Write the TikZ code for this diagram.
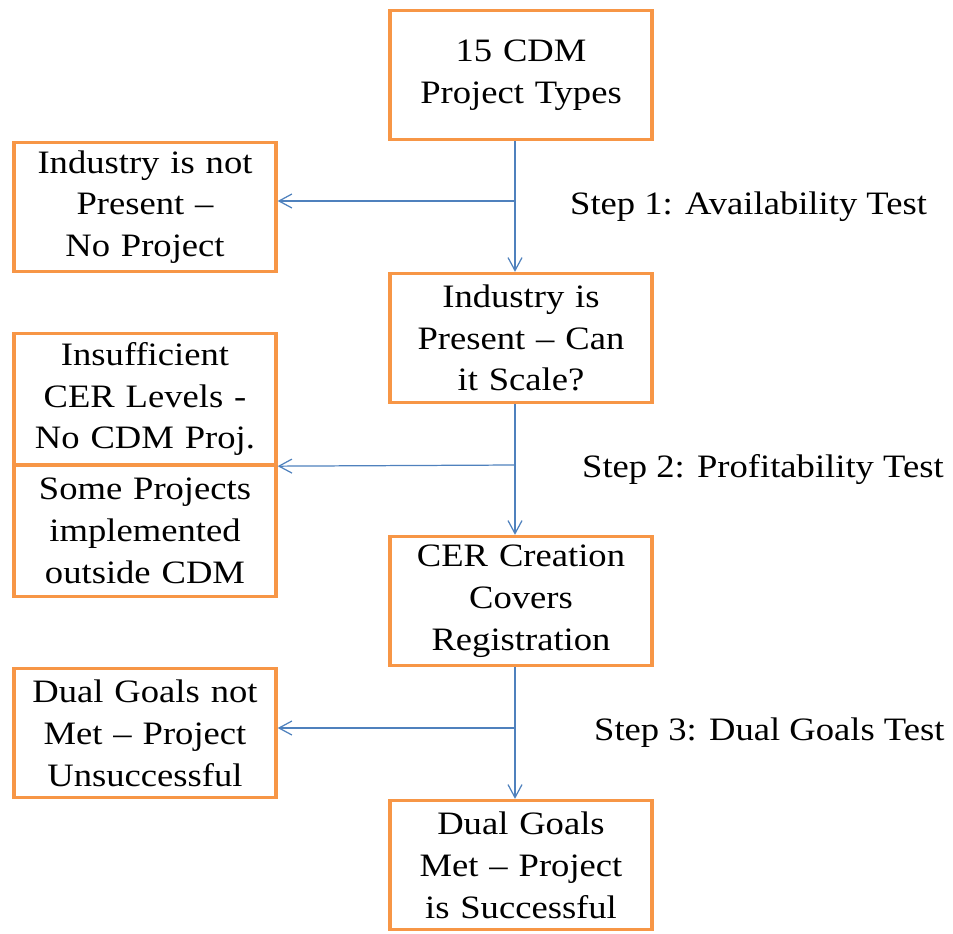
\documentclass[tikz,border=0pt]{standalone}
\usepackage{fontspec}
\setmainfont{Liberation Serif}[FakeStretch=1.12]
\usetikzlibrary{arrows.meta}

\definecolor{boxorange}{RGB}{247,150,70}
\definecolor{flowblue}{RGB}{79,129,189}

\tikzset{
  stagebox/.style={draw=boxorange, line width=1.9pt, fill=white,
    minimum width=5.2cm, minimum height=2.58cm, text width=5.1cm,
    align=center, inner sep=2pt, font=\fontsize{18.6}{23.8}\selectfont},
  flow/.style={draw=flowblue, line width=0.7pt,
    -{Straight Barb[length=2.6mm,width=2.8mm]}},
  steplabel/.style={anchor=west, font=\fontsize{18.6}{23.8}\selectfont}
}

\begin{document}
\begin{tikzpicture}[x=0.02cm,y=-0.02cm]
    \useasboundingbox (0,0) rectangle (953,933);
    % Main column
    \node[stagebox] (types) at (521,75) {15 CDM\\Project Types};
    \node[stagebox] (present) at (521,338) {Industry is\\Present -- Can\\it Scale?};
    \node[stagebox] (creation) at (521,601) {CER Creation\\Covers\\Registration};
    \node[stagebox] (success) at (521,865) {Dual Goals\\Met -- Project\\is Successful};
    % Outcomes on the left
    \node[stagebox] (absent) at (145,207) {Industry is not\\Present --\\No Project};
    \node[stagebox, minimum height=2.62cm] (lowcer) at (145,399) {Insufficient\\CER Levels -\\No CDM Proj.};
    \node[stagebox, minimum height=2.62cm] (outside) at (145,531) {Some Projects\\implemented\\outside CDM};
    \node[stagebox] (failed) at (145,733) {Dual Goals not\\Met -- Project\\Unsuccessful};
    % Branch points on the trunk
    \coordinate (b1) at (515,201);
    \coordinate (b2) at (515,465);
    \coordinate (b3) at (515,728);
    % Tests
    \draw[flow] (types.south -| b1) -- (present.north -| b1);
    \draw[flow] (b1) -- (b1 -| absent.east);
    \node[steplabel] (test1) at (564,207) {Step 1: Availability Test};
    \draw[flow] (present.south -| b2) -- (creation.north -| b2);
    \draw[flow] (b2) -- (lowcer.south east);
    \node[steplabel] (test2) at (576,470) {Step 2: Profitability Test};
    \draw[flow] (creation.south -| b3) -- (success.north -| b3);
    \draw[flow] (b3) -- (b3 -| failed.east);
    \node[steplabel] (test3) at (588,733) {Step 3: Dual Goals Test};
\end{tikzpicture}
\end{document}
